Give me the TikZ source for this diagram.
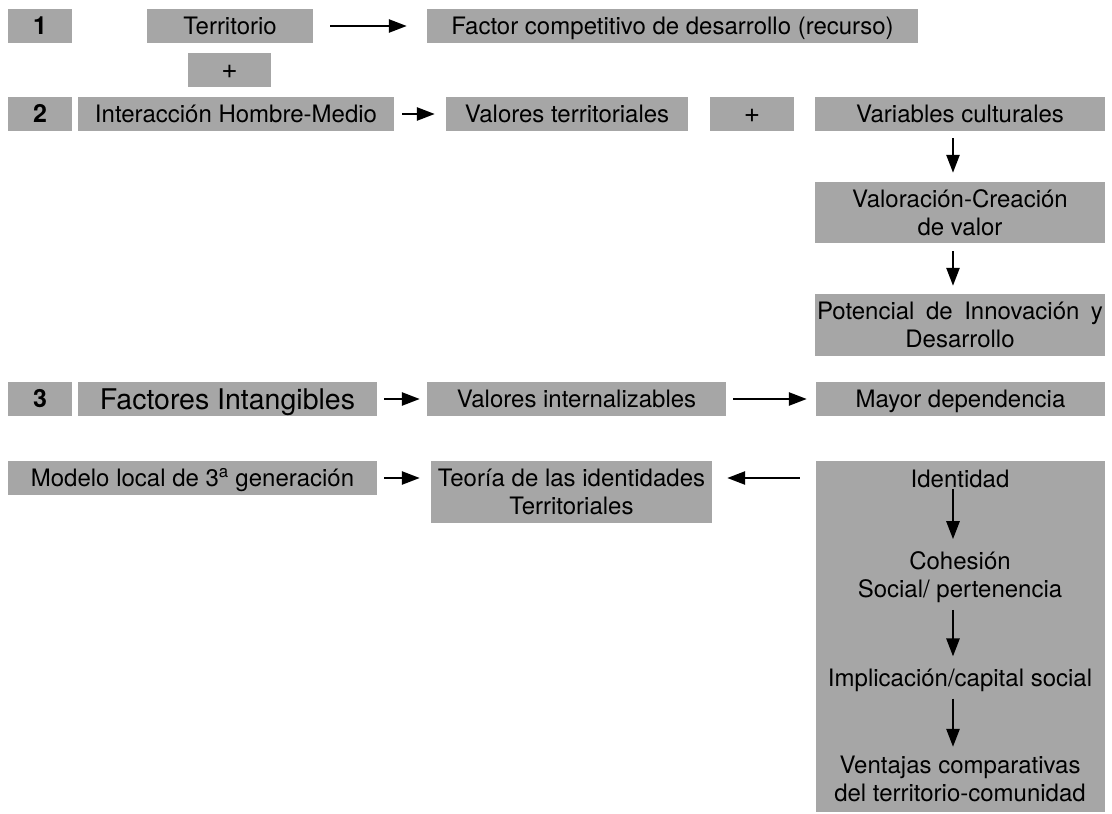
\documentclass[tikz,border=0pt]{standalone}
\usepackage{fontspec}
\setmainfont{TeX Gyre Heros}
\usetikzlibrary{arrows.meta}
\definecolor{boxgray}{RGB}{166,166,166}
\begin{document}
\begin{tikzpicture}[x=1pt,y=-1pt,
  every node/.style={font=\fontsize{24}{28}\selectfont},
  box/.style={fill=boxgray, draw=none, inner sep=0pt, align=center},
  oneline/.style={text height=17.3pt, text depth=0pt},
  bigline/.style={font=\fontsize{28.5}{30}\selectfont, text height=20.5pt, text depth=0pt},
  numline/.style={font=\fontsize{25}{28}\selectfont\bfseries, text height=17.5pt, text depth=0pt},
  plusline/.style={font=\fontsize{28}{30}\selectfont, text height=17pt, text depth=0pt},
  plain/.style={inner sep=0pt, align=center},
  arr/.style={line width=2.6pt, -{Triangle[length=18pt,width=13pt]}}
]
\useasboundingbox (0,0) rectangle (1112,814);
% grey boxes placed by their corners; optional argument = text style
\newcommand{\gbox}[7][oneline]{%
  \node[box, #1, minimum width={#5-#3}, minimum height={#6-#4}] (#2) at ({(#3+#5)/2},{(#4+#6)/2}) {#7};}
% row 1
\gbox[numline]{n1}{8}{9}{72}{43}{1}
\gbox{terr}{147}{9}{313}{43}{Territorio}
\gbox{fac}{427}{9}{918}{43}{Factor competitivo de desarrollo (recurso)}
\gbox[plusline]{plusa}{188}{53}{271}{87}{+}
% row 2
\gbox[numline]{n2}{8}{97}{72}{131}{2}
\gbox{inter}{78}{97}{394}{131}{Interacción Hombre-Medio}
\gbox{valter}{446}{97}{688}{131}{Valores territoriales}
\gbox[plusline]{plusb}{710}{97}{794}{131}{+}
\gbox{varcul}{815}{97}{1105}{131}{Variables culturales}
\gbox[]{valor}{815}{182}{1105}{243}{Valoración-Creación\\de valor}
\gbox[]{poten}{815}{294}{1105}{356}{\hbox to 286pt{Potencial\hfill de\hfill Innovación\hfill y}\\Desarrollo}
% row 3
\gbox[numline]{n3}{8}{382}{72}{416}{3}
\gbox[bigline]{fint}{78}{382}{377}{416}{Factores Intangibles}
\gbox{valint}{427}{382}{726}{416}{Valores internalizables}
\gbox{mayor}{816}{382}{1105}{416}{Mayor dependencia}
% row 4
\gbox{modelo}{8}{461}{377}{495}{Modelo local de 3\textsuperscript{a} generación}
\gbox[]{teoria}{431}{461}{712}{523}{Teoría de las identidades\\Territoriales}
\gbox[]{ident}{816}{461}{1105}{812}{}
% texts inside the identity column
\node[plain] (idt) at (960,479) {Identidad};
\node[plain] (coh) at (960,577) {Cohesión\\Social/ pertenencia};
\node[plain] (impl) at (960,680) {Implicación/capital social};
\node[plain] (vent) at (960,779) {Ventajas comparativas\\del territorio-comunidad};
% connectors
\draw[arr, shorten <=17pt, shorten >=20pt] (terr.east) -- (fac.west);
\draw[arr, shorten <=8pt, shorten >=11pt] (inter.east) -- (valter.west);
\draw[arr] ([xshift=-7pt,yshift=-7pt]varcul.south) -- ([xshift=-7pt,yshift=9pt]valor.north);
\draw[arr] ([xshift=-7pt,yshift=-8pt]valor.south) -- ([xshift=-7pt,yshift=8pt]poten.north);
\draw[arr, shorten <=7pt, shorten >=7pt] (fint.east) -- (valint.west);
\draw[arr, shorten <=7pt, shorten >=9pt] (valint.east) -- (mayor.west);
\draw[arr, shorten <=7pt, shorten >=11pt] (modelo.east) -- (teoria.west |- modelo.east);
\draw[arr, shorten <=16pt, shorten >=15pt] (ident.west |- modelo.east) -- (teoria.east |- modelo.east);
\draw[arr] ([xshift=-7pt,yshift=-1pt]idt.south) -- ([xshift=-7pt,yshift=12pt]coh.north);
\draw[arr] ([xshift=-7pt,yshift=-7pt]coh.south) -- ([xshift=-7pt,yshift=12pt]impl.north);
\draw[arr] ([xshift=-7pt,yshift=-7pt]impl.south) -- ([xshift=-7pt,yshift=9pt]vent.north);
\end{tikzpicture}
\end{document}
